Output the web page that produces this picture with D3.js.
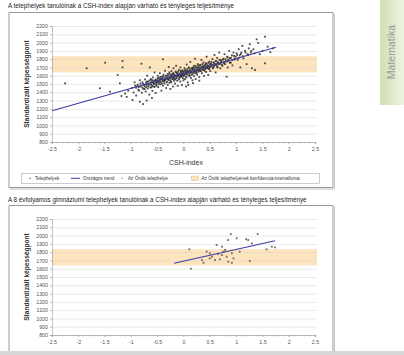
<!DOCTYPE html>
<html><head><meta charset="utf-8">
<script src="https://cdn.jsdelivr.net/npm/d3@7"></script>
<style>
html,body{margin:0;padding:0;background:#fff;}
svg{display:block;font-family:"Liberation Sans",Arial,sans-serif;}
</style></head><body>
<svg id="c" width="404" height="355"></svg>
<script>
// ---- data ----
const title1 = "A telephelyek tanulóinak a CSH-index alapján várható és tényleges teljesítménye";
const title2 = "A 8 évfolyamos gimnáziumi telephelyek tanulóinak a CSH-index alapján várható és tényleges teljesítménye";
const xTicks = [-2.5,-2,-1.5,-1,-0.5,0,0.5,1,1.5,2,2.5];
const yTicks = [800,900,1000,1100,1200,1300,1400,1500,1600,1700,1800,1900,2000,2100,2200];
const band = [1640,1835];
const trend1 = [[-2.5,1178],[1.76,1943]];
const trend2 = [[-0.18,1665],[1.74,1938]];
const legendItems = ["Telephelyek","Országos trend","Az Önök telephelye","Az Önök telephelyének konfidencia-intervalluma"];
const sites = [
[-2.25,1508],[-1.84,1690],[-1.59,1448],[-1.49,1757],[-1.40,1407],[-1.25,1609],[-1.21,1508],[-1.18,1355],[-1.16,1778],[-1.16,1701],[-1.05,1420],[-0.97,1307],[-0.83,1286],
[-1.11,1385],[-1.08,1345],[-0.77,1258],[-0.70,1300],[-0.60,1330],
[-0.98,1452],[-0.95,1398],[-0.93,1520],[-0.90,1360],[-0.88,1475],[-0.86,1430],[-0.83,1545],[-0.80,1745],[-0.79,1395],[-0.77,1500],[-0.76,1440],
[-0.74,1470],[-0.73,1555],[-0.72,1410],[-0.71,1520],[-0.70,1488],[-0.69,1600],[-0.68,1445],[-0.66,1530],[-0.65,1372],[-0.64,1700],[-0.63,1495],[-0.62,1560],[-0.61,1460],[-0.60,1525],[-0.59,1418],[-0.58,1580],[-0.57,1505],[-0.56,1470],[-0.55,1640],[-0.54,1540],[-0.53,1392],[-0.52,1512],[-0.51,1478],
[-0.50,1548],[-0.49,1600],[-0.48,1462],[-0.47,1575],[-0.46,1520],[-0.45,1630],[-0.44,1495],[-0.43,1560],[-0.42,1420],[-0.41,1590],[-0.40,1535],[-0.39,1798],[-0.39,1480],[-0.38,1612],[-0.37,1548],[-0.36,1505],[-0.35,1660],[-0.34,1570],[-0.33,1452],[-0.32,1595],[-0.31,1530],[-0.30,1620],[-0.30,1488],[-0.29,1560],[-0.28,1705],[-0.27,1515],[-0.27,1640],[-0.26,1578],[-0.25,1440],[-0.25,1545],
[-0.24,1600],[-0.23,1655],[-0.23,1520],[-0.22,1580],[-0.21,1625],[-0.20,1470],[-0.20,1560],[-0.19,1690],[-0.18,1540],[-0.18,1610],[-0.17,1588],[-0.16,1505],[-0.15,1650],[-0.15,1565],[-0.14,1720],[-0.13,1598],[-0.12,1540],[-0.12,1632],[-0.11,1478],[-0.10,1600],[-0.09,1668],[-0.09,1555],[-0.08,1620],[-0.07,1582],[-0.06,1700],[-0.06,1530],[-0.05,1645],[-0.04,1598],[-0.03,1488],[-0.03,1612],[-0.02,1665],[-0.01,1570],[0.00,1630],[0.00,1545],
[0.01,1605],[0.02,1690],[0.03,1560],[0.04,1642],[0.05,1618],[0.06,1735],[0.06,1580],[0.07,1660],[0.08,1520],[0.09,1488],[0.09,1640],[0.10,1700],[0.11,1598],[0.12,1665],[0.12,1625],[0.13,1765],[0.14,1572],[0.15,1650],[0.16,1690],[0.16,1612],[0.17,1545],[0.18,1680],[0.19,1638],[0.20,1720],[0.20,1595],[0.21,1660],[0.22,1805],[0.23,1628],[0.23,1560],[0.24,1700],[0.25,1650],
[0.18,1511],[0.05,1470],[0.30,1540],
[0.26,1612],[0.27,1740],[0.28,1668],[0.29,1700],[0.30,1585],[0.31,1725],[0.32,1655],[0.33,1690],[0.34,1790],[0.35,1630],[0.36,1712],[0.37,1668],[0.38,1760],[0.39,1598],[0.40,1705],[0.41,1680],[0.42,1740],[0.43,1645],[0.44,1830],[0.45,1695],[0.46,1722],[0.47,1610],[0.48,1685],[0.49,1770],[0.50,1700],
[0.51,1655],[0.52,1745],[0.53,1720],[0.55,1800],[0.56,1690],[0.57,1760],[0.58,1712],[0.59,1850],[0.60,1735],[0.61,1640],[0.62,1778],[0.63,1725],[0.64,1815],[0.65,1700],[0.66,1755],[0.68,1880],[0.69,1742],[0.70,1690],[0.71,1790],[0.72,1760],[0.74,1720],
[0.76,1805],[0.77,1750],[0.78,1860],[0.80,1775],[0.82,1588],[0.83,1830],[0.84,1700],[0.85,1790],[0.87,1900],[0.88,1812],[0.90,1760],[0.92,1845],[0.93,1725],[0.95,1880],[0.97,1795],[0.99,1830],
[1.01,1870],[1.03,1790],[1.05,1920],[1.07,1845],[1.08,1700],[1.10,1880],[1.12,1960],[1.14,1810],[1.17,1900],[1.20,1740],[1.22,1860],[1.24,1930],
[1.26,1980],[1.28,1880],[1.30,1690],[1.33,1920],[1.36,1669],[1.39,2039],[1.42,1995],[1.45,1860],[1.50,1900],[1.55,2071],[1.55,1750],[1.60,1950],[1.65,1885],[1.70,1930]
];
const sitesCore = [
[-0.92,1480],[-0.90,1455],[-0.87,1492],[-0.85,1462],[-0.84,1420],[-0.82,1505],[-0.81,1470],[-0.78,1455],[-0.78,1520],[-0.75,1488],[-0.74,1440],[-0.72,1498],[-0.71,1462],[-0.69,1530],[-0.68,1505],[-0.67,1470],[-0.66,1490],[-0.64,1545],[-0.63,1458],[-0.62,1515],[-0.61,1492],[-0.60,1548],[-0.59,1475],[-0.58,1520],[-0.57,1540],[-0.56,1502],[-0.55,1465],[-0.54,1528],[-0.53,1555],[-0.52,1490],[-0.51,1535],[-0.50,1515],[-0.49,1570],[-0.48,1530],[-0.47,1498],[-0.46,1555],[-0.45,1540],[-0.44,1585],[-0.43,1522],[-0.42,1560],[-0.41,1505],[-0.40,1572],[-0.39,1548],[-0.38,1590],[-0.37,1525],[-0.36,1568],[-0.35,1545],[-0.34,1600],[-0.33,1560],[-0.32,1520],[-0.31,1578],[-0.30,1560],[-0.29,1605],[-0.28,1548],[-0.27,1585],[-0.26,1620],[-0.25,1570],[-0.24,1530],[-0.23,1595],[-0.22,1612],[-0.21,1560],[-0.20,1590],[-0.19,1632],[-0.18,1575],[-0.17,1610],[-0.16,1555],[-0.15,1600],[-0.14,1640],[-0.13,1572],[-0.12,1615],[-0.11,1590],[-0.10,1648],[-0.09,1605],[-0.08,1565],[-0.07,1625],[-0.06,1600],[-0.05,1660],[-0.04,1585],[-0.03,1630],[-0.02,1610],[-0.01,1648],[0.00,1598],
[0.01,1650],[0.02,1620],[0.03,1668],[0.04,1590],[0.05,1645],[0.06,1630],[0.07,1678],[0.08,1612],[0.09,1655],[0.10,1640],[0.11,1690],[0.12,1600],[0.13,1660],[0.14,1642],[0.15,1685],[0.16,1650],[0.17,1622],[0.18,1700],[0.19,1668],[0.20,1640],[0.21,1690],[0.22,1655],[0.23,1715],[0.24,1672],[0.25,1635],[0.26,1695],[0.27,1668],[0.28,1720],[0.29,1650],[0.30,1690],[0.31,1672],[0.32,1730],[0.33,1660],[0.34,1705],[0.35,1688],[0.36,1740],[0.37,1680],[0.38,1715],[0.39,1695],[0.40,1660],[0.41,1728],[0.42,1702],[0.43,1750],[0.44,1690],[0.45,1725],[0.46,1705],[0.47,1755],[0.48,1715],[0.49,1680],[0.50,1738],[0.52,1712],[0.53,1765],[0.55,1730],[0.56,1700],[0.58,1750],[0.59,1728],[0.61,1775],[0.62,1740],[0.64,1705],[0.65,1762],[0.67,1738],[0.68,1790],[0.70,1752],[0.72,1775],[0.73,1730],[0.75,1795],[0.77,1765],[0.79,1740],[0.80,1800],[0.82,1770],[0.84,1820],[0.86,1780],[0.88,1755],[0.90,1815],[0.93,1790],[0.96,1840],[0.98,1805],[1.02,1850],[1.05,1815],[1.09,1862],[1.13,1835],[1.18,1880],[1.23,1850],[1.29,1900],[1.35,1870]
];
const gymSites = [
[0.11,1834],[0.63,1886],[0.85,1946],[0.90,2018],[1.01,1967],[1.19,1955],[1.23,1946],[1.41,2018],[1.30,1906],[1.58,1834],[1.68,1866],[1.74,1858],
[0.73,1866],[0.79,1826],[0.50,1786],[0.44,1806],[0.54,1745],[0.66,1778],[0.73,1766],[0.82,1745],[0.92,1786],[0.95,1725],[0.60,1705],[0.35,1705],
[0.38,1672],[0.85,1685],[0.92,1672],[1.26,1693],[0.14,1600],[0.50,1725],[0.69,1713],[0.76,1806],[1.07,1806]
];

const svg = d3.select("#c");
const FONT = "'Liberation Sans',Arial,sans-serif";

// side tab
const defs = svg.append("defs");
const g = defs.append("linearGradient").attr("id","tab").attr("x1","0").attr("x2","1");
g.append("stop").attr("offset","0").attr("stop-color","#cfe0b0");
g.append("stop").attr("offset","1").attr("stop-color","#eef4e3");
svg.append("rect").attr("x",380).attr("y",0).attr("width",24).attr("height",105).attr("fill","url(#tab)");
svg.append("text").attr("transform","translate(395,52) rotate(-90)").attr("text-anchor","middle")
  .attr("font-size",10.5).attr("fill","#999").text("Matematika");

// bottom page strip
svg.append("rect").attr("x",0).attr("y",351).attr("width",404).attr("height",4).attr("fill","#d8d8d8");

function chart(opt){
  const x = d3.scaleLinear().domain([-2.5,2.5]).range([52,315]);
  const y = d3.scaleLinear().domain([800,2200]).range([opt.y0+116, opt.y0]);
  svg.append("text").attr("x",8).attr("y",opt.titleY).attr("font-size",6.3).attr("fill","#222").text(opt.title);
  svg.append("path").attr("d",`M9,${opt.boxTop}H333V${opt.boxBottom}`+(opt.closeBottom?`H9Z`:`M9,${opt.boxTop}V${opt.boxBottom}`))
    .attr("fill","none").attr("stroke","#9a9a9a").attr("stroke-width",1);
  svg.append("line").attr("x1",334.5).attr("x2",334.5).attr("y1",opt.boxTop+1).attr("y2",opt.boxBottom+1).attr("stroke","#c8c8c8");
  if(opt.closeBottom) svg.append("line").attr("x1",10).attr("x2",335).attr("y1",opt.boxBottom+1.5).attr("y2",opt.boxBottom+1.5).attr("stroke","#c0c0c0");
  svg.append("rect").attr("x",x(-2.5)).attr("width",x(2.5)+2-x(-2.5)).attr("y",y(band[1])).attr("height",y(band[0])-y(band[1])).attr("fill","#fde4bd");
  svg.append("g").selectAll("line").data(yTicks).join("line")
    .attr("x1",x(-2.5)).attr("x2",x(2.5)+2).attr("y1",d=>y(d)+0.5).attr("y2",d=>y(d)+0.5)
    .attr("stroke","#d9d9d9").attr("stroke-width",0.6).attr("opacity",0.9);
  const ya = svg.append("g").attr("transform",`translate(${x(-2.5)},0)`)
    .call(d3.axisLeft(y).tickValues(yTicks).tickSize(2).tickPadding(2).tickFormat(d3.format("d")));
  const xa = svg.append("g").attr("transform",`translate(0,${y(800)})`)
    .call(d3.axisBottom(x).tickValues(xTicks).tickSize(2).tickPadding(3).tickFormat(d=>String(d)));
  svg.append("g").attr("transform",`translate(0,${y(800)})`).selectAll("line").data(d3.range(-25,26)).join("line")
    .attr("x1",d=>x(d/10)).attr("x2",d=>x(d/10)).attr("y1",0).attr("y2",1.5).attr("stroke","#999").attr("stroke-width",0.5);
  [ya,xa].forEach(a=>{
    a.selectAll("text").attr("font-size",5.3).attr("fill","#555").attr("font-family",FONT);
    a.selectAll("path,line").attr("stroke","#999").attr("stroke-width",0.6);
  });
  svg.append("text").attr("transform",`translate(29,${opt.y0+58}) rotate(-90)`).attr("text-anchor","middle")
    .attr("font-size",6.6).attr("font-weight","bold").attr("fill","#333").text("Standardizált képességpont");
  if(opt.xTitle) svg.append("text").attr("x",186).attr("y",opt.y0+139).attr("text-anchor","middle")
    .attr("font-size",7).attr("fill","#333").text("CSH-index");
  svg.append("g").selectAll("rect").data(opt.points).join("rect")
    .attr("x",d=>x(d[0])-0.9).attr("y",d=>y(d[1])-0.9).attr("width",1.8).attr("height",1.8)
    .attr("fill",opt.pointColor).attr("opacity",0.85);
  svg.append("line").attr("x1",x(opt.trend[0][0])).attr("y1",y(opt.trend[0][1]))
    .attr("x2",x(opt.trend[1][0])).attr("y2",y(opt.trend[1][1]))
    .attr("stroke","#3a3aa8").attr("stroke-width",1.1);
}

chart({title:title1,titleY:8,boxTop:12.5,boxBottom:187.5,closeBottom:true,y0:26,xTitle:true,points:sites.concat(sitesCore),pointColor:"#2a2a2a",trend:trend1});
chart({title:title2,titleY:202,boxTop:205.5,boxBottom:351,closeBottom:false,y0:219,xTitle:false,points:gymSites,pointColor:"#555",trend:trend2});

// legend
const lg = svg.append("g");
lg.append("rect").attr("x",21.5).attr("y",173.5).attr("width",298).attr("height",10).attr("fill","#fff").attr("stroke","#aaa").attr("stroke-width",0.6);
const ly = 180;
lg.append("rect").attr("x",29.5).attr("y",ly-2.3).attr("width",1.2).attr("height",1.2).attr("fill","#444");
lg.append("text").attr("x",35).attr("y",ly).attr("font-size",4.6).attr("fill","#333").text(legendItems[0]);
lg.append("line").attr("x1",71).attr("x2",80).attr("y1",ly-1.7).attr("y2",ly-1.7).attr("stroke","#3a3aa8").attr("stroke-width",1);
lg.append("text").attr("x",83).attr("y",ly).attr("font-size",4.6).attr("fill","#333").text(legendItems[1]);
lg.append("rect").attr("x",121.5).attr("y",ly-2.3).attr("width",1.2).attr("height",1.2).attr("fill","#888");
lg.append("text").attr("x",128).attr("y",ly).attr("font-size",4.6).attr("fill","#333").text(legendItems[2]);
lg.append("rect").attr("x",191.5).attr("y",ly-4).attr("width",7).attr("height",4.5).attr("fill","#fde4bd").attr("stroke","#c8b070").attr("stroke-width",0.4);
lg.append("text").attr("x",201.5).attr("y",ly).attr("font-size",4.6).attr("fill","#333").text(legendItems[3]);
</script>
</body></html>
